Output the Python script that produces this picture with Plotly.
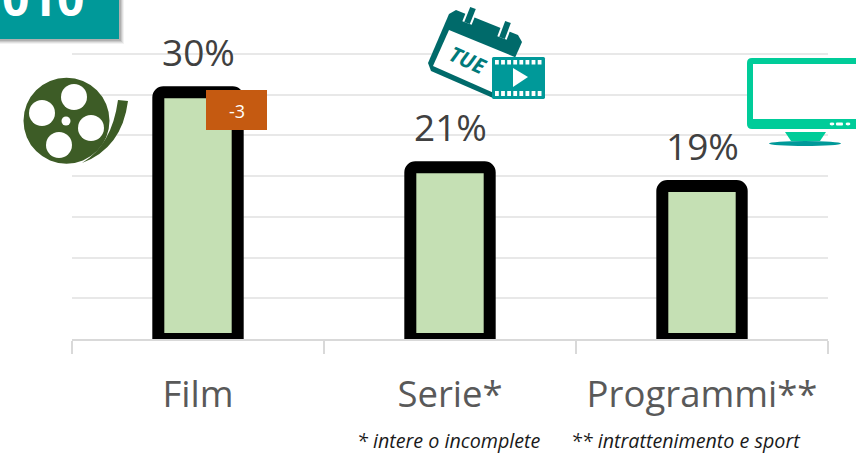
import plotly.graph_objects as go

categories = ["Film", "Serie*", "Programmi**"]
values = [30.3, 21.1, 18.8]
delta_label = "-3"
footnotes = ["* intere o incomplete", "** intrattenimento e sport"]
corner_text = "010"

W, H = 856, 453
L, R, T, B = 72, 828, 52, 339
FONT = "Open Sans"


def px(x):
    return (x - L) / (R - L)


def py(y):
    return (B - y) / (B - T)


def path(points, close=True):
    s = "M" + " L".join(f"{px(x):.5f},{py(y):.5f}" for x, y in points)
    return s + (" Z" if close else "")


shapes = []


def poly(points, color):
    shapes.append(dict(type="path", xref="paper", yref="paper", path=path(points),
                       fillcolor=color, line=dict(width=0), layer="above"))


def rect(x0, y0, x1, y1, color, opacity=1.0, r=0):
    if r == 0:
        shapes.append(dict(type="rect", xref="paper", yref="paper", x0=px(x0), x1=px(x1),
                           y0=py(y0), y1=py(y1), fillcolor=color, opacity=opacity,
                           line=dict(width=0), layer="above"))
    else:
        d = (f"M{px(x0 + r):.5f},{py(y0):.5f} L{px(x1 - r):.5f},{py(y0):.5f} "
             f"Q{px(x1):.5f},{py(y0):.5f} {px(x1):.5f},{py(y0 + r):.5f} "
             f"L{px(x1):.5f},{py(y1 - r):.5f} Q{px(x1):.5f},{py(y1):.5f} {px(x1 - r):.5f},{py(y1):.5f} "
             f"L{px(x0 + r):.5f},{py(y1):.5f} Q{px(x0):.5f},{py(y1):.5f} {px(x0):.5f},{py(y1 - r):.5f} "
             f"L{px(x0):.5f},{py(y0 + r):.5f} Q{px(x0):.5f},{py(y0):.5f} {px(x0 + r):.5f},{py(y0):.5f} Z")
        shapes.append(dict(type="path", xref="paper", yref="paper", path=d, fillcolor=color,
                           opacity=opacity, line=dict(width=0), layer="above"))


def circle(cx, cy, rx, color, ry=None):
    ry = rx if ry is None else ry
    shapes.append(dict(type="circle", xref="paper", yref="paper", x0=px(cx - rx), x1=px(cx + rx),
                       y0=py(cy + ry), y1=py(cy - ry), fillcolor=color,
                       line=dict(width=0), layer="above"))


def stroke(x0, y0, x1, y1, color, width):
    shapes.append(dict(type="line", xref="paper", yref="paper", x0=px(x0), x1=px(x1),
                       y0=py(y0), y1=py(y1), line=dict(color=color, width=width), layer="above"))


# corner box with soft shadow
for off, op in [(5, 0.07), (4, 0.1), (3, 0.14), (2, 0.18)]:
    rect(0, 0, 119 + off, 39 + off, "#404040", op)
rect(0, 0, 119, 39, "#009999")

# delta badge
rect(206, 90, 267, 130, "#C55A11")

# film reel
reel = "#3D5C26"
circle(66.5, 120.7, 43, reel)
for cx, cy, r in [(74, 97, 13), (42, 113, 13), (91, 128, 13), (59, 145, 13), (66, 121, 4.5)]:
    circle(cx, cy, r, "white")
shapes.append(dict(type="path", xref="paper", yref="paper",
                   path=(f"M{px(118):.5f},{py(100):.5f} L{px(128):.5f},{py(101):.5f} "
                         f"Q{px(122):.5f},{py(148):.5f} {px(82):.5f},{py(163):.5f} "
                         f"Q{px(112):.5f},{py(145):.5f} {px(118):.5f},{py(100):.5f} Z"),
                   fillcolor=reel, line=dict(width=0), layer="above"))

# calendar
dark = "#006A6A"
poly([(456, 10), (518, 35), (522, 42), (500, 92), (493, 98), (431, 71), (428, 63), (449, 14)], dark)
poly([(449, 30), (517, 58), (494, 93), (433, 66)], "white")
for x0, y0, x1, y1 in [(473, 8, 467, 23), (508, 22, 502, 38)]:
    stroke(x0, y0, x1, y1, "white", 10)
    stroke(x0, y0, x1, y1, dark, 6)

# film strip
rect(492, 57, 545, 99, "#009999", r=1.5)
for i in range(8):
    x = 495 + i * 6.1
    rect(x, 60, x + 3.8, 64.5, "white")
    rect(x, 91, x + 3.8, 96, "white")
poly([(513, 68), (528, 77), (513, 87)], "white")

# monitor
rect(747, 58, 880, 129, "#00CC99", r=5)
rect(753, 64, 880, 119, "white")
rect(836, 122.5, 843, 125.5, "white", r=1)
circle(832, 124, 2.4, "white", ry=1.4)
circle(848, 124, 2.4, "white", ry=1.4)
poly([(785, 132), (826, 132), (820, 141), (791, 141)], "#00CC99")
circle(805, 143.5, 36, "#009999", ry=2.5)

annotations = []
for c, v in zip(categories, values):
    annotations.append(dict(x=c, y=v, xref="x", yref="y", text=f"{v:.0f}%", showarrow=False,
                            xanchor="center", yanchor="bottom", yshift=13,
                            font=dict(family=FONT, size=37, color="#404040")))


def note(x, y, text, size, color, angle=0):
    annotations.append(dict(xref="paper", yref="paper", x=px(x), y=py(y), text=text, showarrow=False,
                            xanchor="center", yanchor="middle", textangle=angle,
                            font=dict(family=FONT, size=size, color=color)))


note(236.5, 111, delta_label, 18, "white")
note(449, 440, f"<i>{footnotes[0]}</i>", 19.7, "#1a1a1a")
note(685.5, 440, f"<i>{footnotes[1]}</i>", 19.7, "#1a1a1a")
note(43, -3, f"<b>{corner_text}</b>", 48, "white")
note(468, 60, "<b><i>TUE</i></b>", 21, "#007A7A", 24)

fig = go.Figure(go.Bar(
    x=categories, y=values, width=0.315,
    marker=dict(color="#C5E0B4", line=dict(color="black", width=12), cornerradius=5),
    showlegend=False, hoverinfo="skip",
))
fig.update_layout(
    width=W, height=H, margin=dict(l=L, r=W - R, t=T, b=H - B, pad=0),
    paper_bgcolor="white", plot_bgcolor="white",
    shapes=shapes, annotations=annotations,
    font=dict(family=FONT),
    xaxis=dict(type="category", tickson="boundaries", ticks="outside", ticklen=13, tickwidth=2,
               tickcolor="#D9D9D9", showline=True, linecolor="#D9D9D9", linewidth=2, showgrid=False,
               ticklabelstandoff=22, tickfont=dict(family=FONT, size=36.5, color="#595959"),
               range=[-0.5, 2.5], layer="above traces"),
    yaxis=dict(range=[0, 35.25], dtick=5, showticklabels=False, showgrid=True, gridcolor="#E8E8E8",
               gridwidth=2, zeroline=False, showline=False, ticks=""),
)
fig.write_html("out.html", config={"displayModeBar": False},
               post_script="document.body.style.margin='0';document.documentElement.style.overflow='hidden';")
